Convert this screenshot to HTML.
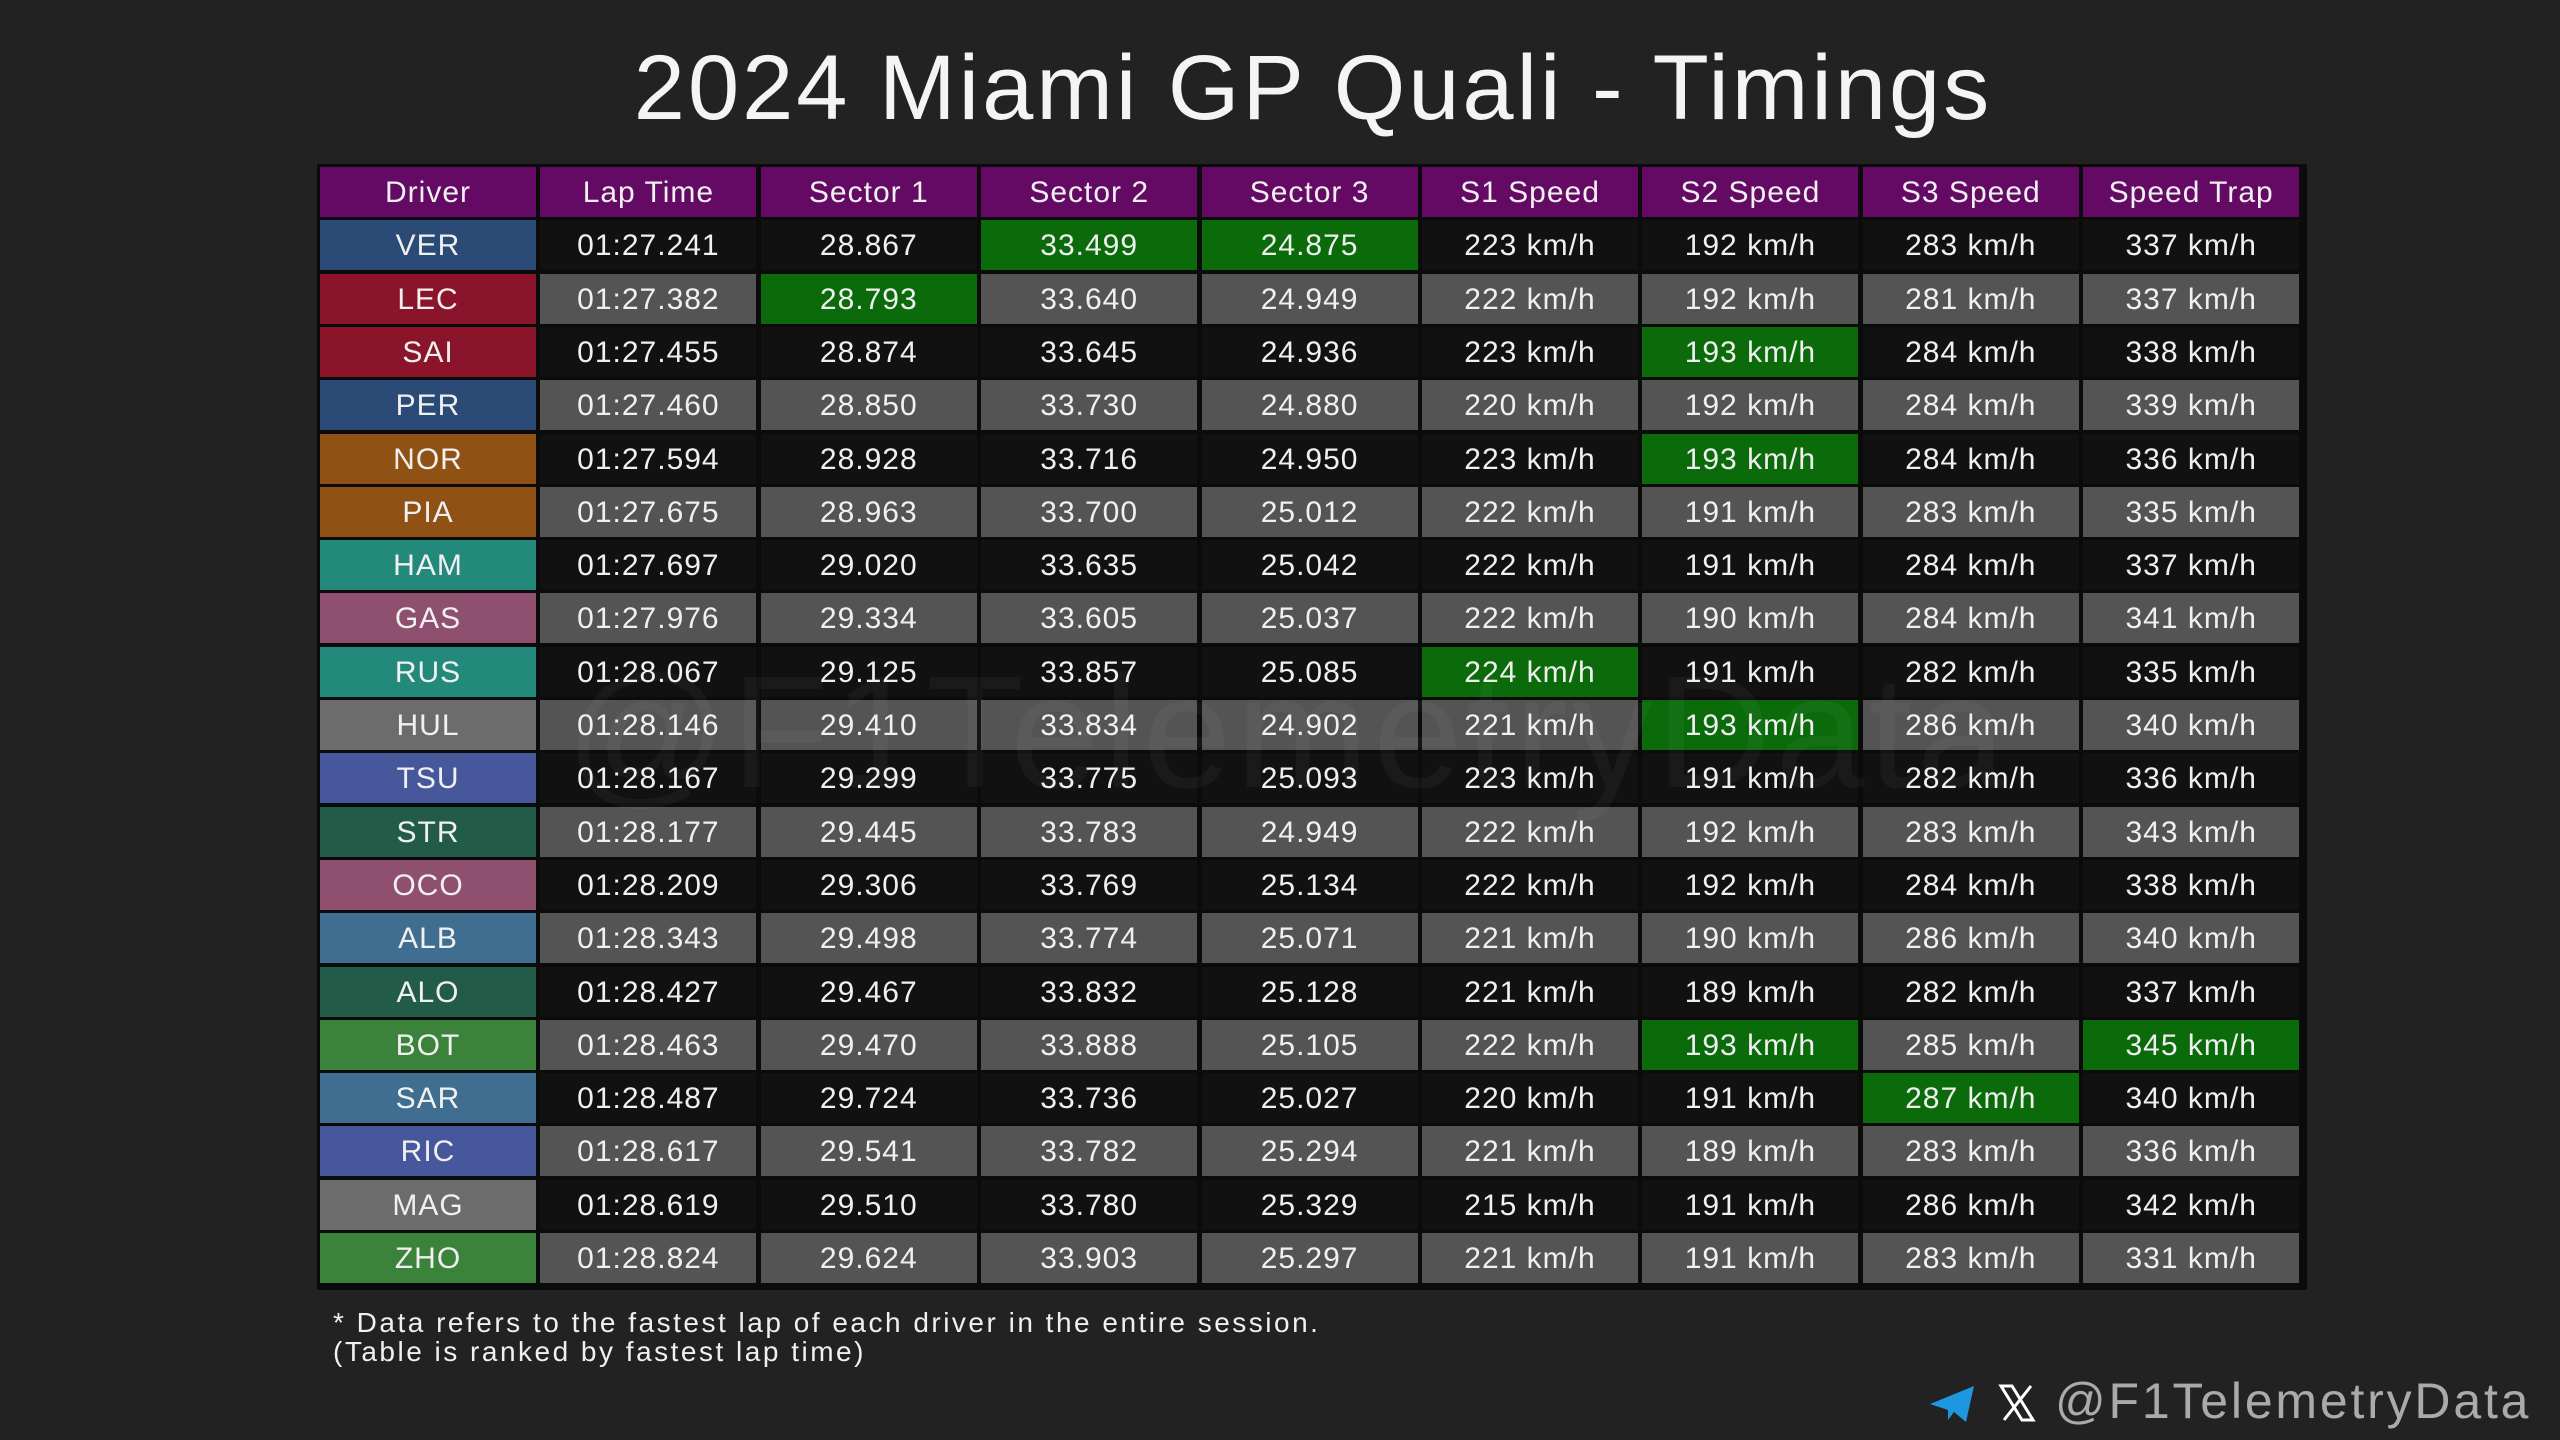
<!DOCTYPE html>
<html><head><meta charset="utf-8">
<style>
html,body{margin:0;padding:0;background:#222;}
#root{position:relative;width:2560px;height:1440px;background:#222;overflow:hidden;font-family:"Liberation Sans","DejaVu Sans",sans-serif;color:#f2f2f2;}
#title{position:absolute;left:33px;width:2560px;top:38px;text-align:center;font-size:92px;line-height:100px;color:#f4f4f4;letter-spacing:3px;}
#tbl{position:absolute;left:317px;top:164px;width:1990px;height:1126px;background:#0b0b0b;}
.c{position:absolute;width:216px;height:50px;line-height:52px;text-align:center;font-size:30px;color:#f0f0f0;letter-spacing:1px;}
#note{position:absolute;left:333px;top:1308px;font-size:28px;line-height:29px;color:#f0f0f0;letter-spacing:2.5px;}
#wm{position:absolute;left:565px;top:640px;font-size:160px;color:rgba(255,255,255,0.04);letter-spacing:4px;}
#handle{position:absolute;left:2055px;top:1372px;font-size:50px;color:#aaa;letter-spacing:2.8px;}
</style></head><body>
<div id="root">
<div id="title">2024 Miami GP Quali - Timings</div>
<div id="tbl"></div>
<div id="wm">@F1TelemetryData</div>
<div id="note">* Data refers to the fastest lap of each driver in the entire session.<br>(Table is ranked by fastest lap time)</div>
<svg style="position:absolute;left:1928px;top:1384px" width="50" height="40"><path d="M2 20 L46 2 L38 38 L26 28 L20 36 L20 26 Z" fill="#1e96e0"/></svg>
<svg style="position:absolute;left:1998px;top:1384px" width="38" height="38"><path d="M3 2 L14 2 L35 36 L24 36 Z" fill="none" stroke="#fff" stroke-width="3"/><path d="M33 2 L6 36" stroke="#fff" stroke-width="3"/></svg>
<div id="handle">@F1TelemetryData</div>
</div>
<script>
const headers=["Driver","Lap Time","Sector 1","Sector 2","Sector 3","S1 Speed","S2 Speed","S3 Speed","Speed Trap"];
const drivers=["VER","LEC","SAI","PER","NOR","PIA","HAM","GAS","RUS","HUL","TSU","STR","OCO","ALB","ALO","BOT","SAR","RIC","MAG","ZHO"];
const teamColors=["#2c4a76","#8a1429","#8a1429","#2c4a76","#8f5214","#8f5214","#238a7b","#8f4f6e","#238a7b","#6c6c6c","#47579b","#225b47","#8f4f6e","#3f6e90","#225b47","#3b823b","#3f6e90","#47579b","#6c6c6c","#3b823b"];
const lapTimes=["01:27.241","01:27.382","01:27.455","01:27.460","01:27.594","01:27.675","01:27.697","01:27.976","01:28.067","01:28.146","01:28.167","01:28.177","01:28.209","01:28.343","01:28.427","01:28.463","01:28.487","01:28.617","01:28.619","01:28.824"];
const sector1=["28.867","28.793","28.874","28.850","28.928","28.963","29.020","29.334","29.125","29.410","29.299","29.445","29.306","29.498","29.467","29.470","29.724","29.541","29.510","29.624"];
const sector2=["33.499","33.640","33.645","33.730","33.716","33.700","33.635","33.605","33.857","33.834","33.775","33.783","33.769","33.774","33.832","33.888","33.736","33.782","33.780","33.903"];
const sector3=["24.875","24.949","24.936","24.880","24.950","25.012","25.042","25.037","25.085","24.902","25.093","24.949","25.134","25.071","25.128","25.105","25.027","25.294","25.329","25.297"];
const s1Speed=[223,222,223,220,223,222,222,222,224,221,223,222,222,221,221,222,220,221,215,221];
const s2Speed=[192,192,193,192,193,191,191,190,191,193,191,192,192,190,189,193,191,189,191,191];
const s3Speed=[283,281,284,284,284,283,284,284,282,286,282,283,284,286,282,285,287,283,286,283];
const speedTrap=[337,337,338,339,336,335,337,341,335,340,336,343,338,340,337,345,340,336,342,331];
const tbl=document.getElementById('tbl');
const X0=3,CW=220.4,Y0=3,RH=53.3;
function best(arr,num){let b=arr.map(Number);return num==='max'?Math.max(...b):Math.min(...b);}
const cols=[lapTimes,sector1,sector2,sector3,s1Speed,s2Speed,s3Speed,speedTrap];
const modes=[null,'min','min','min','max','max','max','max'];
const bests=cols.map((a,i)=>modes[i]?best(a,modes[i]):null);
function cell(ci,ri,text,bg){
  const d=document.createElement('div');
  d.className='c';
  d.style.left=(X0+ci*CW)+'px';d.style.top=(Y0+ri*RH)+'px';d.style.background=bg;d.textContent=text;
  
  
  tbl.appendChild(d);
}
headers.forEach((h,i)=>cell(i,0,h,'#650a64'));
drivers.forEach((dr,r)=>{
  const base=r%2===0?'#111111':'#545454';
  cell(0,r+1,dr,teamColors[r]);
  cols.forEach((a,ci)=>{
    const v=a[r];
    const isBest=modes[ci]&&Number(v)===bests[ci];
    const txt=ci>=4?v+' km/h':v;
    cell(ci+1,r+1,txt,isBest?'#0b6b0b':base);
  });
});
</script>
</body></html>
